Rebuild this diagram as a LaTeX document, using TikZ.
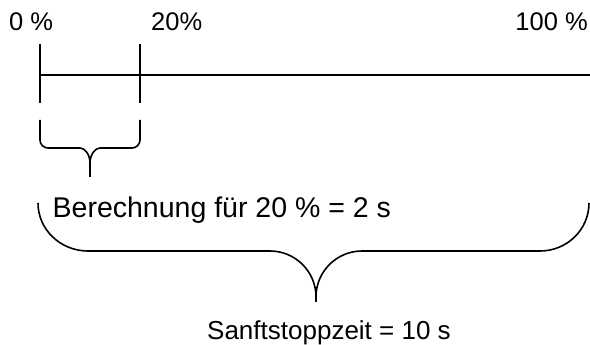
\documentclass[tikz,border=0pt]{standalone}
\usepackage{fontspec}
\setmainfont{Liberation Sans}
\begin{document}
\begin{tikzpicture}[x=1pt,y=-1pt,
  ln/.style={line width=1.6pt,line cap=butt,line join=round},
  lbl/.style={inner sep=0pt,anchor=base west,font=\fontsize{25.5}{30}\selectfont},
  lblr/.style={inner sep=0pt,anchor=base east,font=\fontsize{25.5}{30}\selectfont}]
\useasboundingbox (0,0) rectangle (590,345);
% labels
\node[lbl] (p0) at (9,30.5) {0 \%};
\node[lbl] (p20) at (151,30.5) {20\%};
\node[lblr] (p100) at (588,30.5) {100 \%};
\node[inner sep=0pt,anchor=base west,font=\fontsize{28.5}{34}\selectfont] (calc) at (52.5,217) {Berechnung für 20 \% = 2 s};
\node[inner sep=0pt,anchor=base west,font=\fontsize{26}{31}\selectfont] (stop) at (207,339) {Sanftstoppzeit = 10 s};
% scale line
\coordinate (a) at (40,75);
\coordinate (b) at (590,75);
\draw[ln] (a) -- (b);
\draw[ln] (40,44) -- (40,103);
\draw[ln] (140,44) -- (140,103);
% small brace
\draw[ln] (40,120) -- (40,140) .. controls (40,144.4) and (43.6,148) .. (48,148)
  -- (80,148) .. controls (85,148) and (90,154.7) .. (90,163)
  .. controls (90,154.7) and (95,148) .. (100,148)
  -- (132,148) .. controls (136.4,148) and (140,144.4) .. (140,140) -- (140,120);
\draw[ln] (90,162) -- (90,177);
% big brace
\draw[ln] (38,203) .. controls (38,229.5) and (60.4,251) .. (88,251)
  -- (270,251) .. controls (295.4,251) and (316,271.6) .. (316,297)
  .. controls (316,271.6) and (336.6,251) .. (362,251)
  -- (540,251) .. controls (567.1,251) and (589,229.5) .. (589,203);
\draw[ln] (316,296) -- (316,302);
\end{tikzpicture}
\end{document}
